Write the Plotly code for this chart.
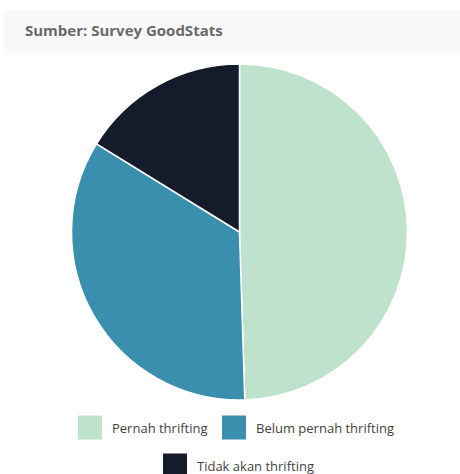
import plotly.graph_objects as go

labels = ["Pernah thrifting", "Belum pernah thrifting", "Tidak akan thrifting"]
values = [49.5, 34.3, 16.2]
colors = ["#bfe2cc", "#3a8eae", "#141b2b"]
title_text = "Sumber: Survey GoodStats"

W, H = 460, 474


def px(x):
    return x / W


def py(y):
    return 1 - y / H


cx, cy, r = 239.5, 232, 168

fig = go.Figure(
    go.Pie(
        labels=labels,
        values=values,
        marker=dict(colors=colors, line=dict(color="white", width=1.5)),
        sort=False,
        direction="clockwise",
        rotation=0,
        textinfo="none",
        hoverinfo="label+percent",
        domain=dict(x=[px(cx - r), px(cx + r)], y=[py(cy + r), py(cy - r)]),
        showlegend=False,
    )
)

shapes = [
    dict(type="rect", xref="paper", yref="paper",
         x0=px(4), x1=px(460), y0=py(50), y1=py(10),
         fillcolor="#f9f9f9", line=dict(width=0), layer="below"),
    dict(type="rect", xref="paper", yref="paper",
         x0=px(4), x1=px(460), y0=py(55), y1=py(50),
         fillcolor="#fcfcfc", line=dict(width=0), layer="below"),
]
annotations = [
    dict(text=f"<b>{title_text}</b>", xref="paper", yref="paper",
         x=px(23), y=py(30), xanchor="left", yanchor="middle",
         showarrow=False, font=dict(family="Open Sans", size=15, color="#696969")),
]

# manual legend (swatches larger than plotly's default)
legend_pos = [(78, 427.5), (222, 427.5), (163, 465.5)]
sw = 24
for (lx, ly), lab, col in zip(legend_pos, labels, colors):
    shapes.append(dict(type="rect", xref="paper", yref="paper",
                       x0=px(lx), x1=px(lx + sw), y0=py(ly + sw / 2), y1=py(ly - sw / 2),
                       fillcolor=col, line=dict(width=0)))
    annotations.append(dict(text=lab, xref="paper", yref="paper",
                            x=px(lx + sw + 8), y=py(ly), xanchor="left", yanchor="middle",
                            showarrow=False,
                            font=dict(family="Open Sans", size=13, color="#3f3f3f")))

fig.update_layout(
    width=W, height=H,
    margin=dict(l=0, r=0, t=0, b=0),
    paper_bgcolor="white",
    plot_bgcolor="white",
    shapes=shapes,
    annotations=annotations,
)

fig.write_html("out.html")
